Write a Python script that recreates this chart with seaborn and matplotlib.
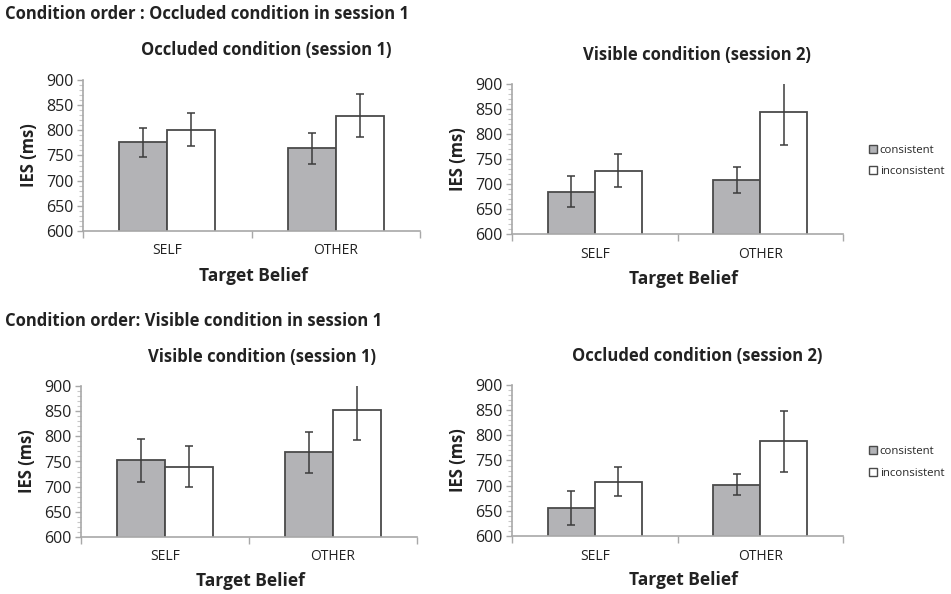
import matplotlib
matplotlib.use("Agg")
import matplotlib.pyplot as plt
import seaborn as sns
import pandas as pd
import numpy as np
from matplotlib.ticker import MultipleLocator, FixedLocator
from matplotlib.patches import Patch

sns.set_style("white")
plt.rcParams['font.family'] = ['Open Sans', 'DejaVu Sans']

# ---- data ----
beliefs = ["SELF", "OTHER"]
conditions = ["consistent", "inconsistent"]

p1_title = "Occluded condition (session 1)"
p1_cons = [776, 764]
p1_cons_err = [28, 30]
p1_inc = [801, 829]
p1_inc_err = [33, 43]

p2_title = "Visible condition (session 2)"
p2_cons = [685, 709]
p2_cons_err = [31, 26]
p2_inc = [727, 844]
p2_inc_err = [33, 66]

p3_title = "Visible condition (session 1)"
p3_cons = [752, 768]
p3_cons_err = [42, 41]
p3_inc = [740, 853]
p3_inc_err = [40, 61]

p4_title = "Occluded condition (session 2)"
p4_cons = [656, 702]
p4_cons_err = [34, 21]
p4_inc = [708, 788]
p4_inc_err = [29, 60]

group_titles = ["Condition order : Occluded condition in session 1",
                "Condition order: Visible condition in session 1"]
ylabel = "IES (ms)"
xlabel = "Target Belief"

W, H = 951, 594
fig = plt.figure(figsize=(W / 100, H / 100), dpi=100)

def px_axes(left, top, right, bottom):
    return fig.add_axes([left / W, 1 - bottom / H, (right - left) / W, (bottom - top) / H])

GRAY = "#b2b3b7"
EDGE = "#4a4a4a"
SPINE = "#a8a8a8"
TXT = "#222222"

panels = [
    dict(box=(83, 80, 420, 231), title=p1_title, tpos=(266, 50), xl=(253, 276),
         cons=p1_cons, ce=p1_cons_err, inc=p1_inc, ie=p1_inc_err, legend=False),
    dict(box=(512, 84, 843, 234), title=p2_title, tpos=(697, 55), xl=(683, 279),
         cons=p2_cons, ce=p2_cons_err, inc=p2_inc, ie=p2_inc_err, legend=True),
    dict(box=(81, 386, 417, 537), title=p3_title, tpos=(262, 357), xl=(250, 581),
         cons=p3_cons, ce=p3_cons_err, inc=p3_inc, ie=p3_inc_err, legend=False),
    dict(box=(512, 385, 843, 536), title=p4_title, tpos=(697, 356), xl=(683, 580),
         cons=p4_cons, ce=p4_cons_err, inc=p4_inc, ie=p4_inc_err, legend=True),
]

for p in panels:
    ax = px_axes(*p["box"])
    df = pd.DataFrame({
        "belief": beliefs * 2,
        "cond": [conditions[0]] * 2 + [conditions[1]] * 2,
        "ies": list(p["cons"]) + list(p["inc"]),
        "err": list(p["ce"]) + list(p["ie"]),
    })
    sns.barplot(data=df, x="belief", y="ies", hue="cond", order=beliefs,
                hue_order=conditions, palette=[GRAY, "white"], errorbar=None,
                width=0.57, edgecolor=EDGE, linewidth=1.3, ax=ax, legend=False)
    bars = list(ax.patches)
    errs = list(p["ce"]) + list(p["ie"])
    vals = list(p["cons"]) + list(p["inc"])
    for b, v, e in zip(bars, vals, errs):
        cx = b.get_x() + b.get_width() / 2
        ax.errorbar([cx], [v], yerr=[[e], [min(e, 900 - v)]], fmt="none",
                    ecolor="#3c3c3c", elinewidth=1.1, capsize=2.6, capthick=1.1)
    # error bars that run past the axis top are shown without a cap
    for line in ax.lines:
        yd = line.get_ydata()
        if len(yd) and np.all(np.asarray(yd) >= 900):
            line.set_visible(False)
    ax.set_ylim(600, 900)
    ax.set_xlim(-0.5, 1.5)
    ax.yaxis.set_major_locator(MultipleLocator(50))
    ax.yaxis.set_minor_locator(MultipleLocator(10))
    ax.xaxis.set_major_locator(FixedLocator([0, 1]))
    ax.xaxis.set_minor_locator(FixedLocator([-0.5, 0.5, 1.5]))
    ax.set_xticklabels(beliefs)
    ax.tick_params(axis="x", which="major", length=0, pad=9, labelsize=10, labelcolor=TXT)
    ax.tick_params(axis="x", which="minor", length=5, width=1, color=SPINE, direction="out", bottom=True)
    ax.tick_params(axis="y", which="major", length=4, width=1, color=SPINE, direction="out",
                   left=True, labelsize=11.5, labelcolor=TXT, pad=3)
    ax.tick_params(axis="y", which="minor", length=3, width=0.8, color="#c8c8c8", direction="out", left=True)
    for s in ["top", "right"]:
        ax.spines[s].set_visible(False)
    for s in ["left", "bottom"]:
        ax.spines[s].set_color(SPINE)
        ax.spines[s].set_linewidth(1.2)
    ax.set_xlabel("")
    ax.set_ylabel(ylabel, fontsize=12, fontweight="bold", color=TXT, labelpad=6)
    fig.text(p["tpos"][0] / W, 1 - p["tpos"][1] / H, p["title"], ha="center", va="center",
             fontsize=12, fontweight="bold", color=TXT)
    fig.text(p["xl"][0] / W, 1 - p["xl"][1] / H, xlabel, ha="center", va="center",
             fontsize=12.5, fontweight="bold", color=TXT)
    if p["legend"]:
        handles = [Patch(facecolor=GRAY, edgecolor=EDGE, linewidth=1, label=conditions[0]),
                   Patch(facecolor="white", edgecolor=EDGE, linewidth=1, label=conditions[1])]
        cy = (p["box"][1] + p["box"][3]) / 2 + 2
        ax.legend(handles=handles, loc="center left",
                  bbox_to_anchor=(869 / W, 1 - cy / H), bbox_transform=fig.transFigure,
                  frameon=False, fontsize=8.2, handlelength=0.7, handleheight=0.7,
                  handletextpad=0.25, borderpad=0, labelspacing=0.9, borderaxespad=0)

fig.text(5 / W, 1 - 14 / H, group_titles[0], ha="left", va="center",
         fontsize=12, fontweight="bold", color=TXT)
fig.text(5 / W, 1 - 321 / H, group_titles[1], ha="left", va="center",
         fontsize=12, fontweight="bold", color=TXT)

fig.savefig("out.png", dpi=100)
